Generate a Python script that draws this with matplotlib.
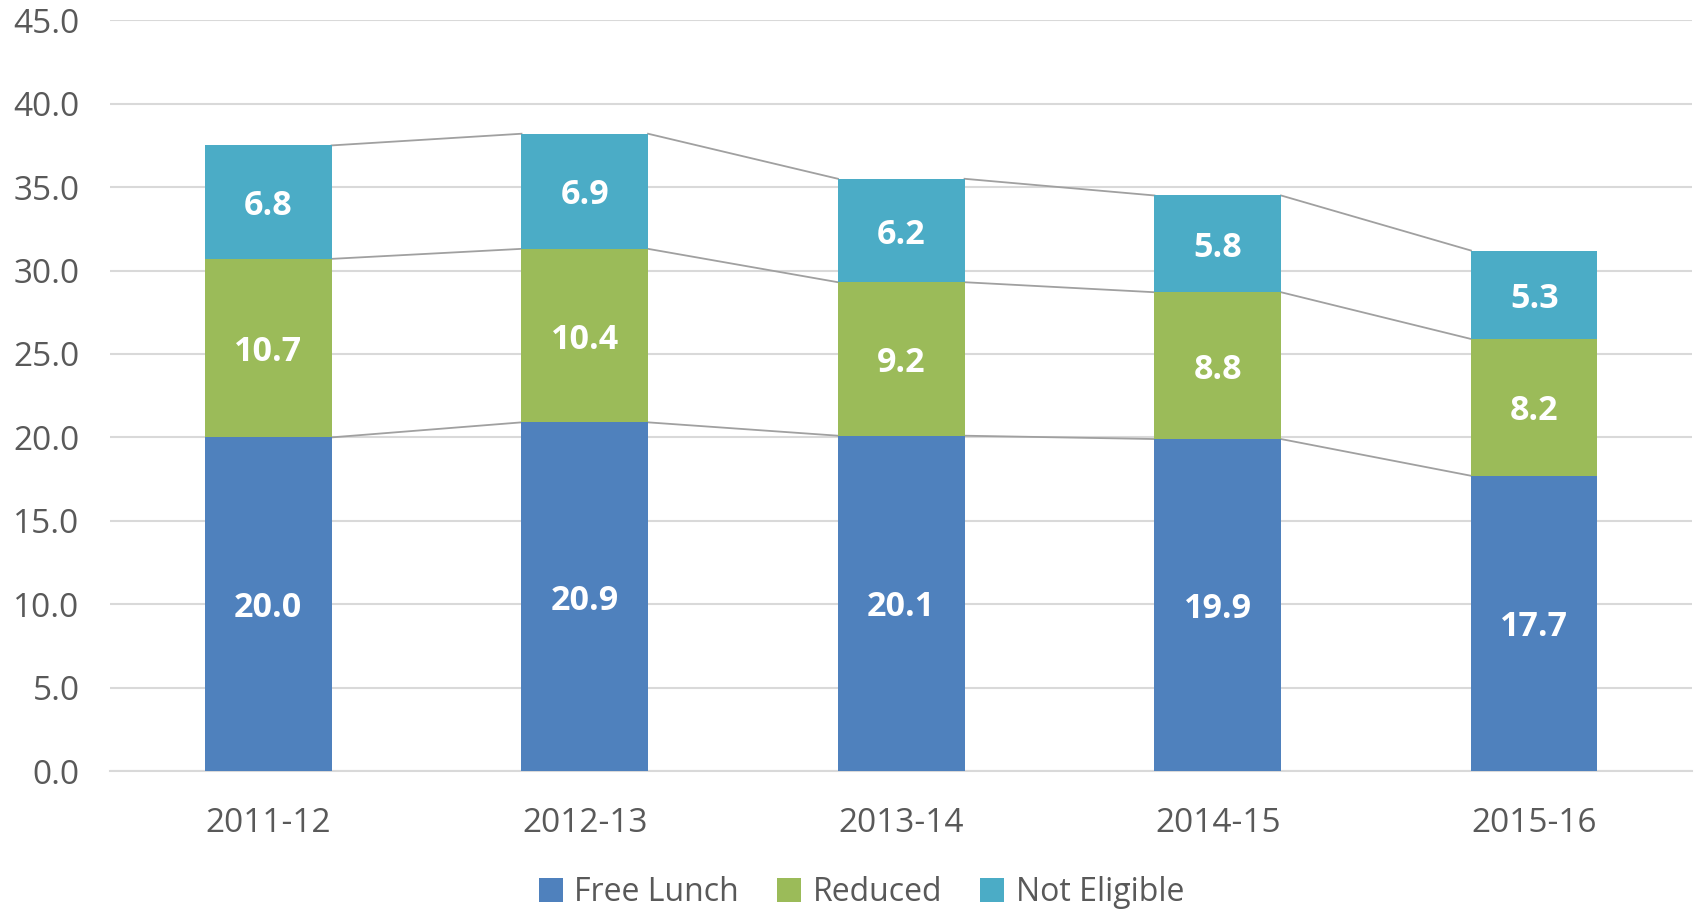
import matplotlib
matplotlib.use("Agg")
import matplotlib.pyplot as plt
import numpy as np

years = ["2011-12", "2012-13", "2013-14", "2014-15", "2015-16"]
free_lunch = [20.0, 20.9, 20.1, 19.9, 17.7]
reduced = [10.7, 10.4, 9.2, 8.8, 8.2]
not_eligible = [6.8, 6.9, 6.2, 5.8, 5.3]
series_names = ["Free Lunch", "Reduced", "Not Eligible"]
yticks = [0, 5, 10, 15, 20, 25, 30, 35, 40, 45]

colors = ["#4F81BD", "#9BBB59", "#4BACC6"]
text_col = "#595959"

plt.rcParams['font.family'] = ['Open Sans', 'DejaVu Sans']

fig = plt.figure(figsize=(16.96, 9.10), dpi=100)
ax = fig.add_axes([0.0649, 0.1527, 0.933, 0.825])

x = np.arange(len(years))
w = 0.4
series = [free_lunch, reduced, not_eligible]
bottom = np.zeros(len(years))
for vals, col, name in zip(series, colors, series_names):
    vals = np.array(vals)
    ax.bar(x, vals, w, bottom=bottom, color=col, label=name, zorder=3)
    for xi, b, v in zip(x, bottom, vals):
        ax.text(xi, b + v / 2, f"{v:.1f}", ha="center", va="center_baseline",
                color="white", fontsize=24.5, fontweight="bold", zorder=4)
    top = bottom + vals
    for i in range(len(years) - 1):
        ax.plot([x[i] + w / 2, x[i + 1] - w / 2], [top[i], top[i + 1]],
                color="#A0A0A0", lw=1.3, zorder=2)
    bottom = top

ax.set_xlim(-0.5, len(years) - 0.5)
ax.set_ylim(0, 45)
ax.set_yticks(yticks)
ax.set_yticklabels([f"{t:.1f}" for t in yticks])
ax.set_xticks(x)
ax.set_xticklabels(years)
ax.yaxis.grid(True, color="#D9D9D9", lw=1.5, zorder=0)
ax.set_axisbelow(True)
for s in ["top", "right", "left"]:
    ax.spines[s].set_visible(False)
ax.spines["bottom"].set_color("#D9D9D9")
ax.spines["bottom"].set_linewidth(1.5)
ax.tick_params(axis="both", length=0, labelsize=24, colors=text_col)
ax.tick_params(axis="y", pad=22)
ax.tick_params(axis="x", pad=26)

fig.legend(loc="center", bbox_to_anchor=(0.508, 0.019), ncol=3, frameon=False,
           fontsize=23, labelcolor=text_col, handlelength=0.75, handleheight=0.75,
           handletextpad=0.35, columnspacing=1.2, borderaxespad=0)

fig.savefig("out.png", dpi=100)
